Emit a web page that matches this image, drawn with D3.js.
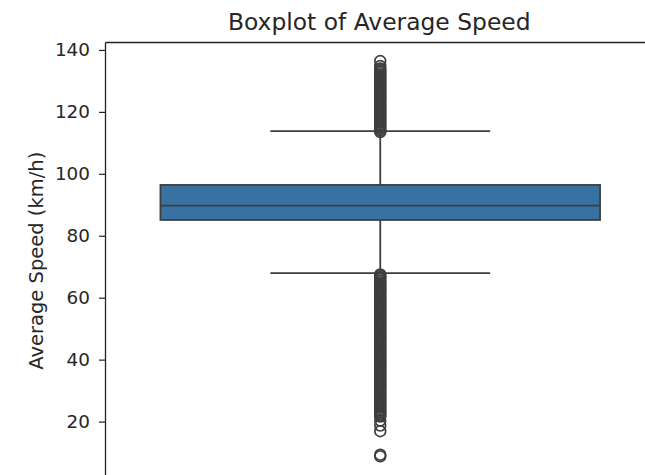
<!DOCTYPE html>
<html>
<head>
<meta charset="utf-8">
<script src="https://cdn.jsdelivr.net/npm/d3@7"></script>
<style>
  html, body { margin: 0; padding: 0; background: #fff; overflow: hidden; }
  svg { display: block; }
  text { font-family: "DejaVu Sans", sans-serif; fill: #262626; }
</style>
</head>
<body>
<script>
// ---- data ----
const title = "Boxplot of Average Speed";
const yLabel = "Average Speed (km/h)";
const yTicks = [20, 40, 60, 80, 100, 120, 140];
const yDomain = [2.1, 142.4];
// box statistics
const q1 = 85.1;
const median = 89.7;
const q3 = 96.4;
const whiskerLow = 67.9;
const whiskerHigh = 113.8;
// outliers
const upperOutliers = [
  113.5, 114, 114.5, 115, 115.5, 116, 116.5, 117, 117.5, 118, 118.5, 119, 119.5,
  120, 120.5, 121, 121.5, 122, 122.5, 123, 123.5, 124, 124.5, 125, 125.5, 126,
  126.5, 127, 127.5, 128, 128.5, 129, 129.5, 130, 130.5, 131, 131.5, 132, 132.5,
  133, 133.5, 134, 134.8, 136.4
];
const lowerOutliers = [
  67.5, 67, 66.5, 66, 65.5, 65, 64.5, 64, 63.5, 63, 62.5, 62, 61.5, 61, 60.5, 60,
  59.5, 59, 58.5, 58, 57.5, 57, 56.5, 56, 55.5, 55, 54.5, 54, 53.5, 53, 52.5, 52,
  51.5, 51, 50.5, 50, 49.5, 49, 48.5, 48, 47.5, 47, 46.5, 46, 45.5, 45, 44.5, 44,
  43.5, 43, 42.5, 42, 41.5, 41, 40.5, 40, 39.5, 39, 38.5, 38, 37.5, 37, 36.5, 36,
  35.5, 35, 34.5, 34, 33.5, 33, 32.5, 32, 31.5, 31, 30.5, 30, 29.5, 29, 28.5, 28,
  27.5, 27, 26.5, 26, 25.5, 25, 24.5, 24, 23.5, 23, 22.5, 22, 21.6, 20.3, 18.7,
  16.9, 9.3, 8.8
];

// ---- layout ----
const W = 645, H = 475;
const margin = { left: 105.5, right: -10, top: 42.5, bottom: -2 };
const boxColor = "#3872a2";
const lineColor = "#3e3e3e";

const svg = d3.select("body").append("svg").attr("width", W).attr("height", H);

const x = d3.scaleLinear().domain([-0.5, 0.5]).range([margin.left, W - margin.right]);
const y = d3.scaleLinear().domain(yDomain).range([H - margin.bottom, margin.top]);

const g = svg.append("g");

// whiskers
g.append("line").attr("x1", x(0)).attr("x2", x(0)).attr("y1", y(q3)).attr("y2", y(whiskerHigh))
  .attr("stroke", lineColor).attr("stroke-width", 1.8);
g.append("line").attr("x1", x(0)).attr("x2", x(0)).attr("y1", y(q1)).attr("y2", y(whiskerLow))
  .attr("stroke", lineColor).attr("stroke-width", 1.8);
// caps
[whiskerLow, whiskerHigh].forEach(v => {
  g.append("line").attr("x1", x(-0.2)).attr("x2", x(0.2)).attr("y1", y(v)).attr("y2", y(v))
    .attr("stroke", lineColor).attr("stroke-width", 1.8);
});
// box
g.append("rect").attr("x", x(-0.4)).attr("width", x(0.4) - x(-0.4))
  .attr("y", y(q3)).attr("height", y(q1) - y(q3))
  .attr("fill", boxColor).attr("stroke", lineColor).attr("stroke-width", 1.8);
// median
g.append("line").attr("x1", x(-0.4)).attr("x2", x(0.4)).attr("y1", y(median)).attr("y2", y(median))
  .attr("stroke", lineColor).attr("stroke-width", 1.8);

// fliers
g.selectAll("circle.flier").data(upperOutliers.concat(lowerOutliers)).join("circle")
  .attr("class", "flier")
  .attr("cx", x(0)).attr("cy", d => y(d)).attr("r", 5.4)
  .attr("fill", "none").attr("stroke", lineColor).attr("stroke-width", 1.7);

// spines
svg.append("line").attr("x1", x(-0.5)).attr("x2", x(-0.5)).attr("y1", margin.top).attr("y2", H)
  .attr("stroke", "#222").attr("stroke-width", 1.3);
svg.append("line").attr("x1", x(-0.5)).attr("x2", W).attr("y1", margin.top).attr("y2", margin.top)
  .attr("stroke", "#222").attr("stroke-width", 1.3);

// y axis
const yAxis = d3.axisLeft(y).tickValues(yTicks).tickSize(6.5).tickPadding(9).tickFormat(d3.format("d"));
const ax = svg.append("g").attr("transform", `translate(${x(-0.5)},0)`).call(yAxis);
ax.select(".domain").remove();
ax.selectAll(".tick line").attr("stroke", "#222").attr("stroke-width", 1.2);
ax.selectAll(".tick text").style("font-size", "18.4px").attr("fill", "#262626")
  .style("font-family", "'DejaVu Sans', sans-serif");

// title
svg.append("text").attr("x", x(0) - 1).attr("y", 30).attr("text-anchor", "middle")
  .style("font-size", "23.4px").text(title);

// y label
svg.append("text").attr("transform", `translate(42.5,${(margin.top + H - margin.bottom) / 2 + 1}) rotate(-90)`)
  .attr("text-anchor", "middle").style("font-size", "19.5px").text(yLabel);
</script>
</body>
</html>
